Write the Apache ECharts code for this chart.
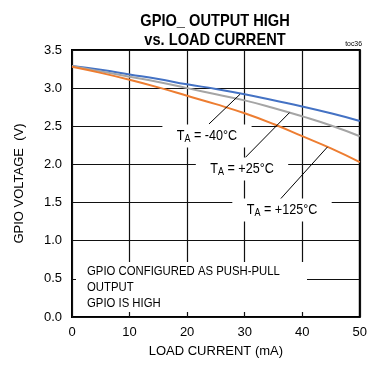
<!DOCTYPE html>
<html>
<head>
<meta charset="utf-8">
<script src="https://cdn.jsdelivr.net/npm/echarts@6/dist/echarts.min.js"></script>
<style>
  html, body { margin: 0; padding: 0; background: #fff; }
  #chart { width: 370px; height: 367px; }
</style>
</head>
<body>
<div id="chart"></div>
<script>
const FONT = "'Liberation Sans', Arial, sans-serif";

// load current (mA)
const loadCurrent = [0, 5, 10, 15, 20, 25, 30, 35, 40, 45, 50];
// GPIO voltage (V)
const vMinus40 = [3.29, 3.24, 3.18, 3.12, 3.05, 2.99, 2.92, 2.84, 2.76, 2.67, 2.57];
const vPlus25 = [3.29, 3.22, 3.15, 3.08, 3.00, 2.92, 2.84, 2.74, 2.63, 2.51, 2.37];
const vPlus125 = [3.28, 3.20, 3.11, 3.01, 2.90, 2.79, 2.67, 2.53, 2.37, 2.21, 2.03];

const yTicks = ["0.0", "0.5", "1.0", "1.5", "2.0", "2.5", "3.0", "3.5"];
const xTicks = ["0", "10", "20", "30", "40", "50"];

// arrows: [tail, tip] in data units
const arrowM40 = [[23.8, 2.53], [29.2, 2.92]];
const arrowP25 = [[30.1, 2.09], [37.8, 2.68]];
const arrowP125 = [[35.9, 1.52], [44.4, 2.23]];

const titleLines = ["GPIO_ OUTPUT HIGH", "vs. LOAD CURRENT"];
const noteLines = ["GPIO CONFIGURED AS PUSH-PULL", "OUTPUT", "GPIO IS HIGH"];

function pairs(ys) {
  return loadCurrent.map((x, i) => [x, ys[i]]);
}

function arrowLine(a) {
  return [{ coord: a[0] }, { coord: a[1] }];
}

// narrow-looking text: squeeze horizontally
function narrowText(text, x, y, size, extra, sx) {
  return {
    type: "text", x: x, y: y, z: 100, scaleX: sx || 0.86,
    style: Object.assign({ text: text, fontFamily: FONT, fontSize: size, fill: "#000",
      align: "center", verticalAlign: "middle" }, extra || {})
  };
}

function taLabel(temp, x, y) {
  return {
    type: "text",
    x: x, y: y, z: 100, scaleX: 0.9,
    style: {
      text: "{t|T}{s|A}{t| = " + temp + "}",
      rich: {
        t: { fontFamily: FONT, fontSize: 14, fill: "#000" },
        s: { fontFamily: FONT, fontSize: 10, fill: "#000", verticalAlign: "bottom", padding: [7, 0, 0, 0] }
      },
      align: "center",
      verticalAlign: "middle",
      backgroundColor: "#fff",
      padding: [3, 16, 3, 16]
    }
  };
}

const chart = echarts.init(document.getElementById("chart"));

chart.setOption({
  animation: false,
  backgroundColor: "#fff",
  grid: { left: 72, right: 8, top: 50, bottom: 50, show: true, borderColor: "#000", borderWidth: 2, backgroundColor: "transparent" },
  xAxis: {
    type: "value", min: 0, max: 50, interval: 10,
    name: "LOAD CURRENT (mA)", nameLocation: "middle", nameGap: 28,
    nameTextStyle: { fontFamily: FONT, fontSize: 13, color: "#000" },
    axisLine: { show: false }, axisTick: { show: false },
    axisLabel: { fontFamily: FONT, fontSize: 13, color: "#000", margin: 9,
      formatter: v => xTicks[Math.round(v / 10)] },
    splitLine: { show: true, lineStyle: { color: "#111", width: 1.2 } }
  },
  yAxis: {
    type: "value", min: 0, max: 3.5, interval: 0.5,
    name: "GPIO VOLTAGE  (V)", nameLocation: "middle", nameGap: 46,
    nameTextStyle: { fontFamily: FONT, fontSize: 13, color: "#000" },
    axisLine: { show: false }, axisTick: { show: false },
    axisLabel: { fontFamily: FONT, fontSize: 13, color: "#000", margin: 10,
      formatter: v => yTicks[Math.round(v / 0.5)] },
    splitLine: { show: true, lineStyle: { color: "#111", width: 1.2 } }
  },
  series: [
    { name: "-40", type: "line", data: pairs(vMinus40), smooth: true, showSymbol: false,
      lineStyle: { color: "#4472c4", width: 2 }, z: 3 },
    { name: "+25", type: "line", data: pairs(vPlus25), smooth: true, showSymbol: false,
      lineStyle: { color: "#a5a5a5", width: 2 }, z: 3 },
    { name: "+125", type: "line", data: pairs(vPlus125), smooth: true, showSymbol: false,
      lineStyle: { color: "#ed7d31", width: 2 }, z: 3,
      markLine: {
        silent: true, symbol: ["none", "path://M0,0 L5,14 L0,12 L-5,14 Z"], symbolSize: [0, 12],
        symbolKeepAspect: true,
        label: { show: false },
        lineStyle: { color: "#000", width: 1, type: "solid" },
        data: [arrowLine(arrowM40), arrowLine(arrowP25), arrowLine(arrowP125)]
      } }
  ],
  graphic: [
    narrowText(titleLines[0], 215, 21, 17, { fontWeight: "bold" }),
    narrowText(titleLines[1], 215, 40, 17, { fontWeight: "bold" }),
    narrowText("toc36", 362, 44, 8, { align: "right" }),
    taLabel("-40°C", 207, 136),
    taLabel("+25°C", 242, 169),
    taLabel("+125°C", 282, 210),
    { type: "rect", z: 99, shape: { x: 76, y: 262, width: 231, height: 50 }, style: { fill: "#fff" } },
    narrowText(noteLines.join("\n"), 87, 287, 13.5, { align: "left", lineHeight: 16 }, 0.84)
  ]
});
</script>
</body>
</html>
